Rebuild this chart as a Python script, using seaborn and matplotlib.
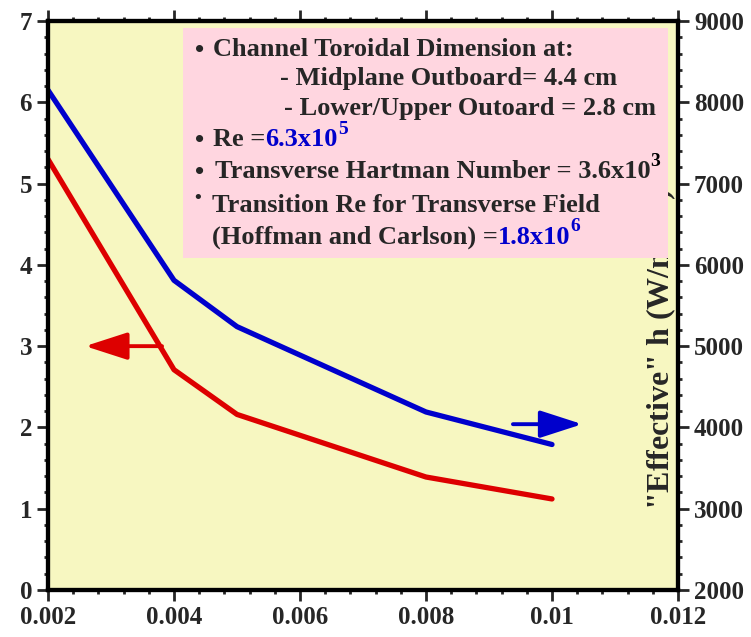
import numpy as np
import matplotlib
matplotlib.use('Agg')
import matplotlib.pyplot as plt
import seaborn as sns
from matplotlib.ticker import MultipleLocator

sns.set_theme(style='ticks')
plt.rcParams['font.family'] = ['Liberation Serif', 'DejaVu Serif']
plt.rcParams['font.weight'] = 'bold'

# data
x_vals = [0.002, 0.004, 0.005, 0.008, 0.010]
left_vals = [5.30, 2.71, 2.16, 1.39, 1.12]          # red, left axis
right_vals = [8150, 5810, 5240, 4190, 3790]          # blue, right axis
x_ticks = [0.002, 0.004, 0.006, 0.008, 0.01, 0.012]
x_tick_labels = ['0.002', '0.004', '0.006', '0.008', '0.01', '0.012']

RED = '#DD0000'
BLUE = '#0000CC'
W, H = 751, 637

fig = plt.figure(figsize=(W / 100, H / 100), dpi=100)
ax = fig.add_axes([48 / W, 1 - 590 / H, 630 / W, 569 / H])
ax.set_facecolor('#F7F7C1')
ax2 = ax.twinx()

sns.lineplot(x=x_vals, y=left_vals, ax=ax, color=RED, linewidth=3.8)
sns.lineplot(x=x_vals, y=right_vals, ax=ax2, color=BLUE, linewidth=3.8)

ax.set_xlim(0.002, 0.012)
ax.set_ylim(0, 7)
ax2.set_ylim(2000, 9000)
ax.set_xticks(x_ticks)
ax.set_xticklabels(x_tick_labels)
ax.xaxis.set_minor_locator(MultipleLocator(0.0004))
ax.yaxis.set_minor_locator(MultipleLocator(0.2))
ax2.yaxis.set_minor_locator(MultipleLocator(200))
ax.set_yticks(range(0, 8))
ax2.set_yticks(range(2000, 9001, 1000))

for a in (ax, ax2):
    for s in a.spines.values():
        s.set_linewidth(3)
        s.set_color('black')
ax.tick_params(axis='both', which='major', direction='out', length=8, width=2,
               labelsize=18, top=True)
ax.tick_params(axis='both', which='minor', direction='out', length=3, width=2, top=True)
ax2.tick_params(axis='y', which='major', direction='out', length=8, width=2, labelsize=18)
ax2.tick_params(axis='y', which='minor', direction='out', length=3, width=2)
for lbl in ax.get_xticklabels() + ax.get_yticklabels() + ax2.get_yticklabels():
    lbl.set_fontweight('bold')

# arrows pointing at the axes
ax.annotate('', xy=(0.00259, 3.0), xytext=(0.00381, 3.0),
            arrowprops=dict(arrowstyle='-|>,head_length=1.3,head_width=0.42',
                            color=RED, lw=2.8, mutation_scale=20, shrinkA=0, shrinkB=0))
ax2.annotate('', xy=(0.01048, 4040), xytext=(0.00938, 4040),
             arrowprops=dict(arrowstyle='-|>,head_length=1.3,head_width=0.42',
                             color=BLUE, lw=2.8, mutation_scale=20, shrinkA=0, shrinkB=0))

# right axis label (partly hidden by the note box, as in the original)
ax2.text(0.971, 0.140, '"Effective" h (W/m$^2$K)', transform=ax2.transAxes,
         rotation=90, ha='center', va='bottom', fontsize=23, fontweight='bold',
         zorder=2)

# note box
def fx(px):
    return px / W

def fy(py):
    return 1 - py / H

box = plt.Rectangle((fx(183), fy(258)), (668 - 183) / W, (258 - 28) / H,
                    transform=fig.transFigure, facecolor='#FFD6E0', edgecolor='none',
                    zorder=5)
ax2.add_artist(box)

FS = 19
SUP = 14
kw = dict(transform=fig.transFigure, fontsize=FS, fontweight='bold', va='center',
          ha='left', zorder=6)

def chain(prev, txt, color='black', size=FS, dy=0.5):
    return ax2.annotate(txt, xy=(1, dy), xycoords=prev, va='center', ha='left',
                        fontsize=size, fontweight='bold', color=color, zorder=6,
                        annotation_clip=False)

ax2.text(fx(195), fy(50), '•', **kw)
ax2.text(fx(213), fy(50), 'Channel Toroidal Dimension at:', **kw)
ax2.text(fx(280), fy(79), '- Midplane Outboard= 4.4 cm', **kw)
ax2.text(fx(284), fy(108), '- Lower/Upper Outoard = 2.8 cm', **kw)

ax2.text(fx(195), fy(140), '•', **kw)
t = ax2.text(fx(213), fy(140), 'Re =', **kw)
t = chain(t, '6.3x10', BLUE)
chain(t, '5', BLUE, size=SUP, dy=0.95)

ax2.text(fx(195), fy(172), '•', **kw)
t = ax2.text(fx(215), fy(172), 'Transverse Hartman Number = 3.6x10', **kw)
chain(t, '3', size=SUP, dy=0.95)

ax2.text(fx(194), fy(199), '•', **dict(kw, fontsize=14))
ax2.text(fx(212), fy(205), 'Transition Re for Transverse Field', **kw)
t = ax2.text(fx(212), fy(237), '(Hoffman and Carlson) =', **kw)
t = chain(t, '1.8x10', BLUE)
chain(t, '6', BLUE, size=SUP, dy=0.95)

fig.savefig('out.png', dpi=100, facecolor='white')
